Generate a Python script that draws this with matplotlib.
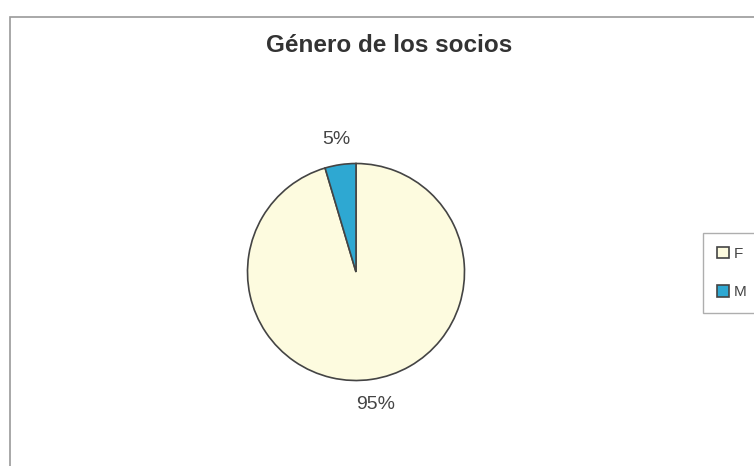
"""Pie chart: gender of the members (Excel-style scan)."""

import matplotlib

matplotlib.use("Agg")
import matplotlib.pyplot as plt
from matplotlib.patches import Rectangle

# Data
labels = ["F", "M"]
shares = [95.4, 4.6]
colors = ["#FDFBDF", "#2EA8D2"]

title = "Género de los socios"

W, H = 754, 466
fig = plt.figure(figsize=(W / 100, H / 100), dpi=100)
ax = fig.add_axes([0, 0, 1, 1])

# chart frame
ax.add_patch(
    Rectangle((10, -10), 760, H - 17 + 10, fill=False, edgecolor="#9A9A9A", lw=1.2)
)

wedges, texts, autotexts = ax.pie(
    shares,
    colors=colors,
    startangle=90,
    counterclock=False,
    center=(356, H - 272),
    radius=108.5,
    autopct="%.0f%%",
    pctdistance=1.23,
    wedgeprops={"edgecolor": "#444444", "linewidth": 1.2},
    textprops={"fontsize": 14, "color": "#444444", "family": "Liberation Sans"},
    frame=True,
)
ax.set_xlim(0, W)
ax.set_ylim(0, H)
ax.set_aspect("equal")
ax.axis("off")

ax.text(
    389,
    H - 52,
    title,
    ha="center",
    va="baseline",
    fontsize=17.5,
    fontweight="bold",
    color="#333333",
    family="Liberation Sans",
)

leg = ax.legend(
    wedges,
    labels,
    loc="upper left",
    bbox_to_anchor=(703 / W, 1 - 233 / H),
    bbox_transform=fig.transFigure,
    borderaxespad=0,
    frameon=True,
    fancybox=False,
    edgecolor="#9A9A9A",
    handlelength=0.8,
    handleheight=0.8,
    handletextpad=0.3,
    labelspacing=1.6,
    borderpad=0.9,
    prop={"family": "Liberation Sans", "size": 11},
)
leg.get_frame().set_linewidth(1.0)
for t in leg.get_texts():
    t.set_color("#444444")

plt.savefig("out.png", dpi=100)
plt.close()
